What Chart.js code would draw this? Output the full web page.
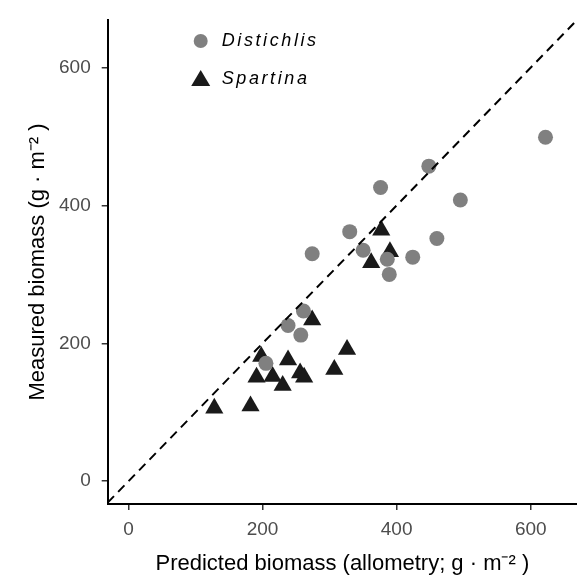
<!DOCTYPE html>
<html>
<head>
<meta charset="utf-8">
<script src="https://cdn.jsdelivr.net/npm/chart.js@4.4.1/dist/chart.umd.min.js"></script>
<style>
  html, body { margin: 0; padding: 0; background: #fff; }
  #wrap { width: 577px; height: 580px; }
</style>
</head>
<body>
<div id="wrap"><canvas id="chart" width="577" height="580"></canvas></div>
<script>
// Distichlis (grey circles): predicted vs measured biomass
const distichlisPredicted = [622, 448, 376, 495, 330, 460, 274, 350, 424, 386, 389, 261, 238, 257, 205];
const distichlisMeasured  = [499, 457, 426, 408, 362, 352, 330, 335, 325, 322, 300, 247, 226, 212, 171];

// Spartina (black triangles)
const spartinaPredicted = [377, 390, 362, 274, 326, 198, 238, 307, 191, 215, 256, 262, 230, 128, 182];
const spartinaMeasured  = [364, 333, 317, 234, 191, 181, 176, 162, 151, 152, 157, 151, 139, 106, 109];

const xTicks = [0, 200, 400, 600];
const yTicks = [0, 200, 400, 600];
const xRange = [-31, 669];
const yRange = [-33, 669];

const toPoints = (xs, ys) => xs.map((x, i) => ({ x: x, y: ys[i] }));

const legendItems = [
  { label: 'Distichlis', style: 'circle', color: '#808080' },
  { label: 'Spartina', style: 'triangle', color: '#1a1a1a' }
];

// legend drawn inside the plot, top left like the original
const insideLegend = {
  id: 'insideLegend',
  afterDatasetsDraw(chart) {
    const ctx = chart.ctx;
    const area = chart.chartArea;
    ctx.save();
    legendItems.forEach((item, i) => {
      const cx = area.left + 93;
      const cy = area.top + 21 + i * 38;
      ctx.fillStyle = item.color;
      ctx.beginPath();
      if (item.style === 'circle') {
        ctx.arc(cx, cy, 7, 0, Math.PI * 2);
      } else {
        ctx.moveTo(cx, cy - 9);
        ctx.lineTo(cx + 9.5, cy + 7);
        ctx.lineTo(cx - 9.5, cy + 7);
        ctx.closePath();
      }
      ctx.fill();
      ctx.fillStyle = '#000';
      ctx.font = 'italic 18px "Liberation Sans", Arial, sans-serif';
      ctx.letterSpacing = '2.6px';
      ctx.textBaseline = 'middle';
      ctx.textAlign = 'left';
      ctx.fillText(item.label, area.left + 114, cy);
    });
    ctx.restore();
  }
};

const tickFont = { family: '"Liberation Sans", Arial, sans-serif', size: 19 };
const titleFont = { family: '"Liberation Sans", Arial, sans-serif', size: 22 };

new Chart(document.getElementById('chart'), {
  type: 'scatter',
  data: {
    datasets: [
      {
        type: 'line',
        label: '1:1',
        data: [{ x: xRange[0], y: xRange[0] }, { x: xRange[1], y: xRange[1] }],
        borderColor: '#000',
        borderWidth: 2,
        borderDash: [9, 6],
        pointRadius: 0,
        fill: false
      },
      {
        label: 'Distichlis',
        data: toPoints(distichlisPredicted, distichlisMeasured),
        pointStyle: 'circle',
        pointRadius: 7.5,
        backgroundColor: '#808080',
        borderColor: '#808080',
        borderWidth: 0
      },
      {
        label: 'Spartina',
        data: toPoints(spartinaPredicted, spartinaMeasured),
        pointStyle: 'triangle',
        pointRadius: 10.5,
        backgroundColor: '#1a1a1a',
        borderColor: '#1a1a1a',
        borderWidth: 0
      }
    ]
  },
  options: {
    responsive: false,
    devicePixelRatio: 1,
    animation: false,
    layout: { autoPadding: false, padding: { top: 20, right: 0, left: 0, bottom: 0 } },
    plugins: {
      legend: { display: false },
      tooltip: { enabled: false }
    },
    scales: {
      x: {
        type: 'linear',
        min: xRange[0],
        max: xRange[1],
        afterBuildTicks: axis => { axis.ticks = xTicks.map(v => ({ value: v })); },
        afterFit: axis => { axis.height = 76; axis.paddingLeft = 0; axis.paddingRight = 0; },
        grid: { drawOnChartArea: false, drawTicks: true, tickLength: 6, color: '#333', lineWidth: 1.5 },
        border: { display: true, color: '#000', width: 2 },
        ticks: { color: '#4d4d4d', font: tickFont, padding: 8, maxRotation: 0 },
        title: {
          display: true,
          text: 'Predicted biomass (allometry; g \u00b7 m\u207b\u00b2 )',
          color: '#000',
          font: titleFont,
          padding: { top: 0, bottom: 3 }
        }
      },
      y: {
        type: 'linear',
        min: yRange[0],
        max: yRange[1],
        afterBuildTicks: axis => { axis.ticks = yTicks.map(v => ({ value: v })); },
        afterFit: axis => { axis.width = 107.7; axis.paddingTop = 0; axis.paddingBottom = 0; },
        grid: { drawOnChartArea: false, drawTicks: true, tickLength: 6, color: '#333', lineWidth: 1.5 },
        border: { display: true, color: '#000', width: 2 },
        ticks: { color: '#4d4d4d', font: tickFont, padding: 11 },
        title: {
          display: true,
          text: 'Measured biomass (g \u00b7 m\u207b\u00b2 )',
          color: '#000',
          font: titleFont,
          padding: { top: 25, bottom: 0 }
        }
      }
    }
  },
  plugins: [insideLegend]
});
</script>
</body>
</html>
